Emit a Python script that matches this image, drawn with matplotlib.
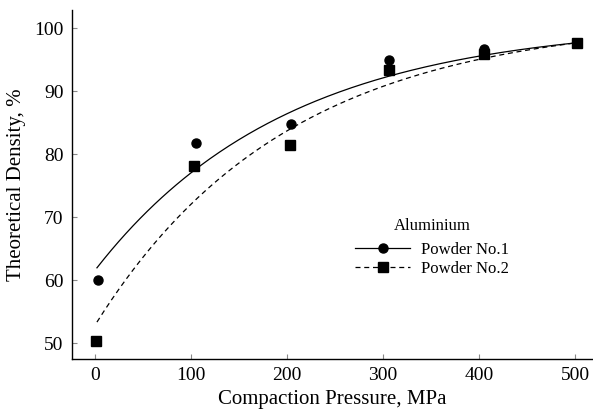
import numpy as np
import matplotlib
matplotlib.use("Agg")
import matplotlib.pyplot as plt
from matplotlib.lines import Line2D

# Compaction pressure (MPa) and theoretical density (%) for the two powders
pressure_1 = [3, 105, 204, 306, 405, 502]
density_1 = [60.0, 81.7, 84.8, 94.9, 96.7, 97.7]
pressure_2 = [1, 103, 203, 306, 405, 502]
density_2 = [50.3, 78.1, 81.5, 93.4, 95.9, 97.7]

x_ticks = [0, 100, 200, 300, 400, 500]
y_ticks = [50, 60, 70, 80, 90, 100]

# densification rate used for the trend curves (1/MPa)
RATE = 0.005


def saturation_fit(x, y, xs, k=RATE):
    # y = y_end - b*(exp(-k*x) - exp(-k*x_end)), pinned to the last point
    x = np.asarray(x, float)
    y = np.asarray(y, float)
    f = np.exp(-k * x) - np.exp(-k * x[-1])
    b = np.sum(f * (y[-1] - y)) / np.sum(f * f)
    return y[-1] - b * (np.exp(-k * xs) - np.exp(-k * x[-1]))


plt.rcParams['font.family'] = ['Liberation Serif', 'DejaVu Serif']

fig = plt.figure(figsize=(5.93, 4.17), dpi=100)
ax = fig.add_axes([0.1214, 0.139, 0.879, 0.837])

xs = np.linspace(2, 500, 200)
fit_1 = saturation_fit(pressure_1, density_1, xs)
fit_2 = saturation_fit(pressure_2, density_2, xs)

ax.plot(xs, fit_1, color='black', lw=0.9)
ax.plot(xs, fit_2, color='black', lw=0.9, ls=(0, (4, 3)))
ax.plot(pressure_1, density_1, 'o', color='black', ms=6.5)
ax.plot(pressure_2, density_2, 's', color='black', ms=6.5)

ax.set_xlim(-24, 519)
ax.set_ylim(47.46, 102.9)
ax.set_xticks(x_ticks)
ax.set_yticks(y_ticks)
ax.tick_params(direction='in', length=3.5, width=0.8, color='#888888',
               labelsize=14, pad=6)

for side in ['top', 'right']:
    ax.spines[side].set_visible(False)
for side in ['left', 'bottom']:
    ax.spines[side].set_linewidth(1.0)

ax.set_xlabel('Compaction Pressure, MPa', fontsize=15, labelpad=4)
ax.set_ylabel('Theoretical Density, %', fontsize=15, labelpad=6)

handles = [
    Line2D([], [], color='black', lw=0.9, marker='o', ms=6.5),
    Line2D([], [], color='black', lw=0.9, ls=(0, (4, 3)), marker='s', ms=6.5),
]
leg = ax.legend(handles, ['Powder No.1', 'Powder No.2'], title='Aluminium',
                frameon=False, fontsize=12, title_fontsize=12,
                handlelength=3.3, handletextpad=0.65, labelspacing=0.2,
                loc='center', bbox_to_anchor=(0.691, 0.32))
leg._legend_box.sep = 6

fig.savefig('out.png', dpi=100)
